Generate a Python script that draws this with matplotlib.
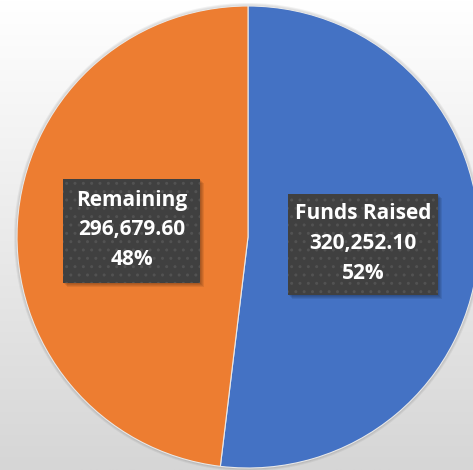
import numpy as np
import matplotlib.pyplot as plt
from matplotlib.patches import Rectangle, Circle

labels = ['Funds Raised', 'Remaining']
values = [320252.10, 296679.60]
colors = ['#4472C4', '#ED7D31']

W, H = 473, 470
fig = plt.figure(figsize=(W / 100, H / 100), dpi=100)
ax = fig.add_axes([0, 0, 1, 1])

# light grey gradient background
grad = np.linspace(1.0, 0.0, 256).reshape(-1, 1)
bg = plt.matplotlib.colors.LinearSegmentedColormap.from_list('bg', ['#d6d6d6', '#ffffff'])
ax.imshow(grad, cmap=bg, extent=[0, W, 0, H], aspect='auto', zorder=0)

cx, cy, r = 248, H - 237, 231
# soft shadow around the pie
for i, a in enumerate([0.05, 0.05, 0.05]):
    ax.add_patch(Circle((cx, cy), r + 1 + i, color='#000000', alpha=a, zorder=1, lw=0))

wedges, _ = ax.pie(values, colors=colors, startangle=90, counterclock=False,
                   center=(cx, cy), radius=r, frame=True,
                   wedgeprops=dict(edgecolor='#e8e8e8', linewidth=0.8, zorder=2))

total = sum(values)
# label boxes (x0, y0 top, x1, y1 bottom in pixels from top)
boxes = [(288, 194, 438, 295), (63, 179, 200, 283)]
for lab, v, (x0, y0, x1, y1) in zip(labels, values, boxes):
    bx, by, bw, bh = x0, H - y1, x1 - x0, y1 - y0
    for k in range(1, 5):
        ax.add_patch(Rectangle((bx + k, by - k), bw, bh, facecolor='black',
                               alpha=0.08, lw=0, zorder=3))
    ax.add_patch(Rectangle((bx, by), bw, bh, facecolor='#404040', edgecolor='#525252',
                           hatch='..', lw=0, zorder=4))
    txt = f"{lab}\n{v:,.2f}\n{v / total * 100:.0f}%"
    ax.text(bx + bw / 2, by + bh / 2 + 1, txt, ha='center', va='center', color='white',
            fontsize=15, fontweight='bold', family='Open Sans', linespacing=1.55, zorder=5)

ax.set_xlim(0, W)
ax.set_ylim(0, H)
ax.set_aspect('auto')
ax.axis('off')
fig.savefig('out.png', dpi=100)
